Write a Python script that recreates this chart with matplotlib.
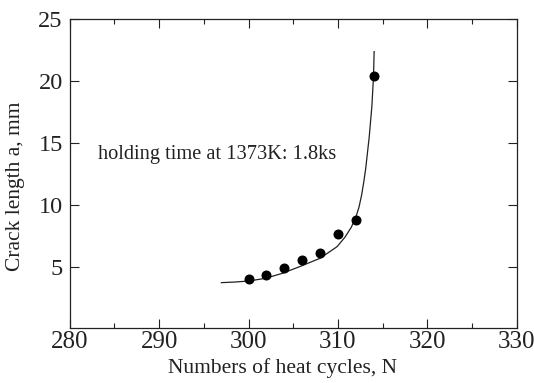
import matplotlib
matplotlib.use('Agg')
import matplotlib.pyplot as plt
from matplotlib.ticker import MultipleLocator

plt.rcParams['font.family'] = ['Liberation Serif', 'DejaVu Serif']

# measured points
cycles = [300, 302, 304, 306, 308, 310, 312, 314]
crack = [4.0, 4.35, 4.92, 5.54, 6.08, 7.62, 8.78, 20.4]

# fitted curve
fit_n = [296.96, 298.5, 300.0, 301.9, 303.8, 305.7, 308.0, 309.9, 310.8, 311.5,
         312.0, 312.35, 312.65, 312.9, 313.1, 313.3, 313.5, 313.8, 313.98, 314.05]
fit_a = [3.71, 3.76, 3.84, 4.06, 4.47, 5.0, 5.68, 6.62, 7.4, 8.2,
         9.0, 9.8, 10.8, 11.9, 12.9, 14.2, 15.5, 18.0, 20.4, 22.4]

note = 'holding time at 1373K: 1.8ks'

fig = plt.figure(figsize=(5.34, 3.83), dpi=100)
ax = fig.add_axes([0.1307, 0.1423, 0.8369, 0.8068])

ax.plot(fit_n, fit_a, color='#222222', lw=0.9)
ax.plot(cycles, crack, 'o', color='black', ms=6.2)

ax.set_xlim(280, 330)
ax.set_ylim(0, 25)
ax.xaxis.set_major_locator(MultipleLocator(10))
ax.xaxis.set_minor_locator(MultipleLocator(5))
ax.set_yticks([5, 10, 15, 20, 25])

ax.tick_params(which='both', direction='in', top=True, right=True, colors='#222222')
ax.tick_params(which='major', length=6.5, width=0.8)
ax.tick_params(which='minor', length=3.6, width=0.8)
ax.tick_params(axis='x', labelsize=18, pad=2)
ax.tick_params(axis='y', labelsize=17.5, pad=5)
for s in ax.spines.values():
    s.set_linewidth(0.9)
    s.set_color('#222222')

ax.set_xlabel('Numbers of heat cycles, N', fontsize=15.5, color='#222222')
ax.set_ylabel('Crack length a, mm', fontsize=15.5, color='#222222')
ax.xaxis.set_label_coords(0.476, -0.097)
ax.yaxis.set_label_coords(-0.1, 0.46)

ax.text(283.2, 14.04, note, fontsize=14.7, va='center', ha='left', color='#222222')

fig.savefig('out.png', dpi=100)
